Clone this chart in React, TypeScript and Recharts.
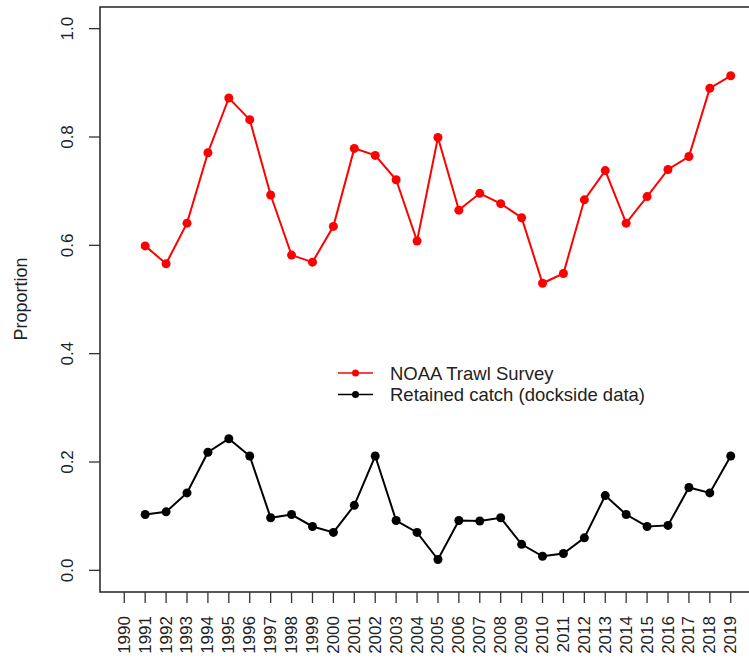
import { LineChart, Line, XAxis, YAxis, ReferenceArea, Legend } from "recharts";

const years = [1991, 1992, 1993, 1994, 1995, 1996, 1997, 1998, 1999, 2000, 2001, 2002, 2003, 2004, 2005, 2006, 2007, 2008, 2009, 2010, 2011, 2012, 2013, 2014, 2015, 2016, 2017, 2018, 2019];
const noaaTrawl = [0.599, 0.566, 0.641, 0.771, 0.872, 0.832, 0.693, 0.582, 0.569, 0.635, 0.779, 0.766, 0.721, 0.608, 0.799, 0.665, 0.696, 0.677, 0.651, 0.53, 0.548, 0.684, 0.738, 0.641, 0.69, 0.74, 0.764, 0.89, 0.913];
const retainedCatch = [0.103, 0.108, 0.143, 0.218, 0.243, 0.211, 0.097, 0.103, 0.081, 0.07, 0.12, 0.211, 0.092, 0.07, 0.02, 0.092, 0.091, 0.097, 0.048, 0.026, 0.031, 0.06, 0.138, 0.103, 0.081, 0.083, 0.153, 0.143, 0.211];
const xTicks = [1990, 1991, 1992, 1993, 1994, 1995, 1996, 1997, 1998, 1999, 2000, 2001, 2002, 2003, 2004, 2005, 2006, 2007, 2008, 2009, 2010, 2011, 2012, 2013, 2014, 2015, 2016, 2017, 2018, 2019];
const yTicks = [0, 0.2, 0.4, 0.6, 0.8, 1.0];
const seriesNames = ["NOAA Trawl Survey", "Retained catch (dockside data)"];
const seriesColors = ["#ff0000", "#000000"];

const rows = years.map((year, i) => ({ year, noaa: noaaTrawl[i], retained: retainedCatch[i] }));

const FONT = "'Liberation Sans', Arial, sans-serif";
const X_MIN = 1988.84;
const X_MAX = 2020.16;
const Y_MIN = -0.04;
const Y_MAX = 1.04;

function XTick(props: any) {
  const { x, payload } = props;
  const tx = x + 5.5;
  const ty = 616;
  return (
    <text x={tx} y={ty} transform={`rotate(-90 ${tx} ${ty})`} textAnchor="end" fontSize={17} fontFamily={FONT} fill="#222">
      {payload.value}
    </text>
  );
}

function YTick(props: any) {
  const { y, payload } = props;
  const tx = 73;
  return (
    <text x={tx} y={y} transform={`rotate(-90 ${tx} ${y})`} textAnchor="middle" fontSize={17} fontFamily={FONT} fill="#222">
      {Number(payload.value).toFixed(1)}
    </text>
  );
}

function LegendBox() {
  return (
    <svg width={360} height={56} style={{ display: "block", overflow: "visible" }}>
      {seriesNames.map((name, i) => {
        const cy = 18 + i * 21.5;
        return (
          <g key={name}>
            <line x1={8} x2={43} y1={cy} y2={cy} stroke={seriesColors[i]} strokeWidth={1.5} />
            <circle cx={25.5} cy={cy} r={3.5} fill={seriesColors[i]} />
            <text x={60} y={cy + 6.5} fontSize={18.5} fontFamily={FONT} fill="#222">
              {name}
            </text>
          </g>
        );
      })}
    </svg>
  );
}

export default function App() {
  return (
    <div style={{ position: "fixed", left: 0, top: 0, width: 749, height: 660, overflow: "hidden", background: "#fff" }}>
      <LineChart width={761} height={660} data={rows} margin={{ top: 7, right: 6, left: 0, bottom: 0 }}>
        <XAxis
          type="number"
          dataKey="year"
          domain={[X_MIN, X_MAX]}
          ticks={xTicks}
          interval={0}
          allowDataOverflow
          axisLine={false}
          tickLine={{ stroke: "#333", strokeWidth: 1.3 }}
          tickSize={11}
          tickMargin={2}
          height={68}
          tick={XTick}
        />
        <YAxis
          type="number"
          domain={[Y_MIN, Y_MAX]}
          ticks={yTicks}
          interval={0}
          allowDataOverflow
          axisLine={false}
          tickLine={{ stroke: "#333", strokeWidth: 1.3 }}
          tickSize={11}
          tickMargin={2}
          width={100}
          tick={YTick}
          label={() => (
            <text x={27} y={299} transform="rotate(-90 27 299)" textAnchor="middle" fontSize={18} fontFamily={FONT} fill="#222">
              Proportion
            </text>
          )}
        />
        <ReferenceArea x1={X_MIN} x2={X_MAX} y1={Y_MIN} y2={Y_MAX} fill="none" stroke="#222" strokeWidth={1.5} fillOpacity={0} ifOverflow="visible" />
        <Line dataKey="noaa" name={seriesNames[0]} stroke={seriesColors[0]} strokeWidth={2} dot={{ r: 4.5, fill: seriesColors[0], stroke: "none" }} activeDot={false} isAnimationActive={false} />
        <Line dataKey="retained" name={seriesNames[1]} stroke={seriesColors[1]} strokeWidth={2} dot={{ r: 4.5, fill: seriesColors[1], stroke: "none" }} activeDot={false} isAnimationActive={false} />
        <Legend layout="horizontal" verticalAlign="middle" align="center" wrapperStyle={{ left: 330, top: 355, width: 360, height: 56 }} content={() => <LegendBox />} />
      </LineChart>
    </div>
  );
}
